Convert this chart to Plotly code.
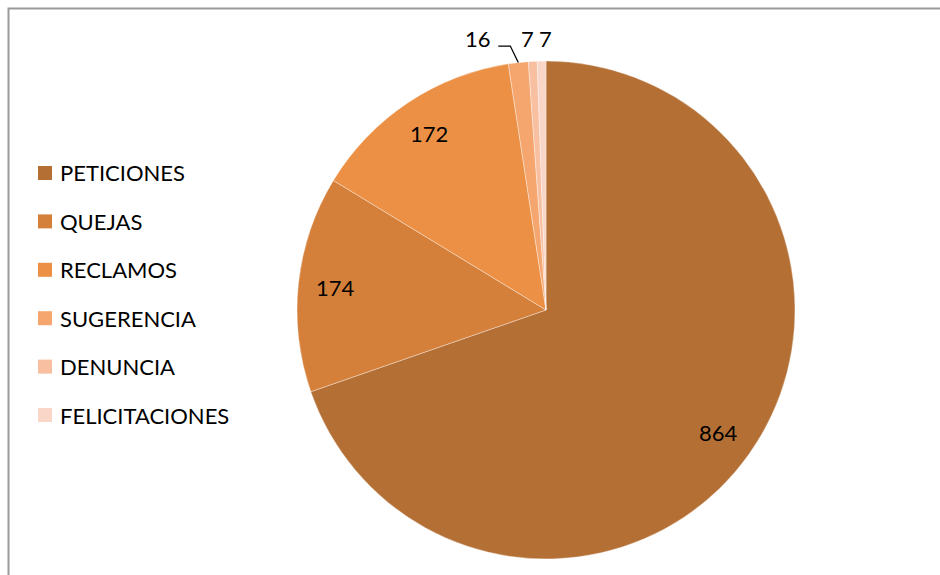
import math
import plotly.graph_objects as go

categories = ["PETICIONES", "QUEJAS", "RECLAMOS", "SUGERENCIA", "DENUNCIA", "FELICITACIONES"]
values = [864, 174, 172, 16, 7, 7]
colors = ["#B46F35", "#D4803A", "#EC9045", "#F4A66E", "#F8BFA0", "#FAD6C8"]

W, H = 940, 575
CX, CY, R = 546, 310, 249  # pie centre / radius in pixels
FONT = "Lato, Calibri, Carlito, sans-serif"
FS = 22

def px(x):
    return x / W

def py(y):
    return 1 - y / H

fig = go.Figure(go.Pie(
    labels=categories,
    values=values,
    sort=False,
    direction="clockwise",
    rotation=0,
    marker=dict(colors=colors, line=dict(color="rgba(255,255,255,0.6)", width=0.6)),
    textinfo="none",
    hoverinfo="label+value+percent",
    showlegend=False,
    domain=dict(x=[px(CX - R), px(CX + R)], y=[py(CY + R), py(CY - R)]),
))

annotations = []
shapes = []

# chart frame
shapes.append(dict(type="rect", xref="paper", yref="paper",
                   x0=px(8.5), x1=px(W + 20), y0=py(H + 20), y1=py(8.5),
                   line=dict(color="#9A9A9A", width=2), fillcolor="rgba(0,0,0,0)", layer="below"))

total = sum(values)
cum = 0
small_i = 0
small_dx = [-5.5, 3.5]
for i, (cat, v) in enumerate(zip(categories, values)):
    mid = (cum + v / 2) / total * 2 * math.pi
    cum += v
    sx, sy = math.sin(mid), -math.cos(mid)
    if v / total > 0.05:
        x = CX + 0.85 * R * sx
        y = CY + 0.85 * R * sy
        annotations.append(dict(x=px(x), y=py(y), xref="paper", yref="paper", text=str(v),
                                showarrow=False, font=dict(family=FONT, size=FS, color="#000000"),
                                xanchor="center", yanchor="middle"))
    elif v >= 10:
        ex, ey = CX + R * sx, CY + R * sy
        elbow = (ex - 8, ey - 16.5)
        end = (elbow[0] - 12, elbow[1])
        shapes.append(dict(type="path", xref="paper", yref="paper",
                           path=f"M {px(ex)},{py(ey)} L {px(elbow[0])},{py(elbow[1])} L {px(end[0])},{py(end[1])}",
                           line=dict(color="#000000", width=1.3)))
        annotations.append(dict(x=px(end[0] - 5), y=py(end[1] - 7.5), xref="paper", yref="paper",
                                text=str(v), showarrow=False,
                                font=dict(family=FONT, size=FS, color="#000000"),
                                xanchor="right", yanchor="middle"))
    else:
        ex, ey = CX + R * sx, CY + R * sy
        annotations.append(dict(x=px(ex + small_dx[small_i]), y=py(ey - 23), xref="paper", yref="paper",
                                text=str(v), showarrow=False,
                                font=dict(family=FONT, size=FS, color="#000000"),
                                xanchor="center", yanchor="middle"))
        small_i += 1

# manual legend
LEG_X, LEG_Y0, LEG_DY, SQ = 38, 173, 48.4, 14
for i, (cat, c) in enumerate(zip(categories, colors)):
    yc = LEG_Y0 + i * LEG_DY
    shapes.append(dict(type="rect", xref="paper", yref="paper",
                       x0=px(LEG_X), x1=px(LEG_X + SQ), y0=py(yc + SQ / 2), y1=py(yc - SQ / 2),
                       fillcolor=c, line=dict(width=0)))
    annotations.append(dict(x=px(LEG_X + SQ + 6), y=py(yc), xref="paper", yref="paper",
                            text=cat, showarrow=False,
                            font=dict(family=FONT, size=FS, color="#000000"),
                            xanchor="left", yanchor="middle"))

fig.update_layout(
    width=W, height=H,
    margin=dict(l=0, r=0, t=0, b=0),
    paper_bgcolor="#FFFFFF",
    plot_bgcolor="#FFFFFF",
    shapes=shapes,
    annotations=annotations,
)

fig.write_html("out.html")
